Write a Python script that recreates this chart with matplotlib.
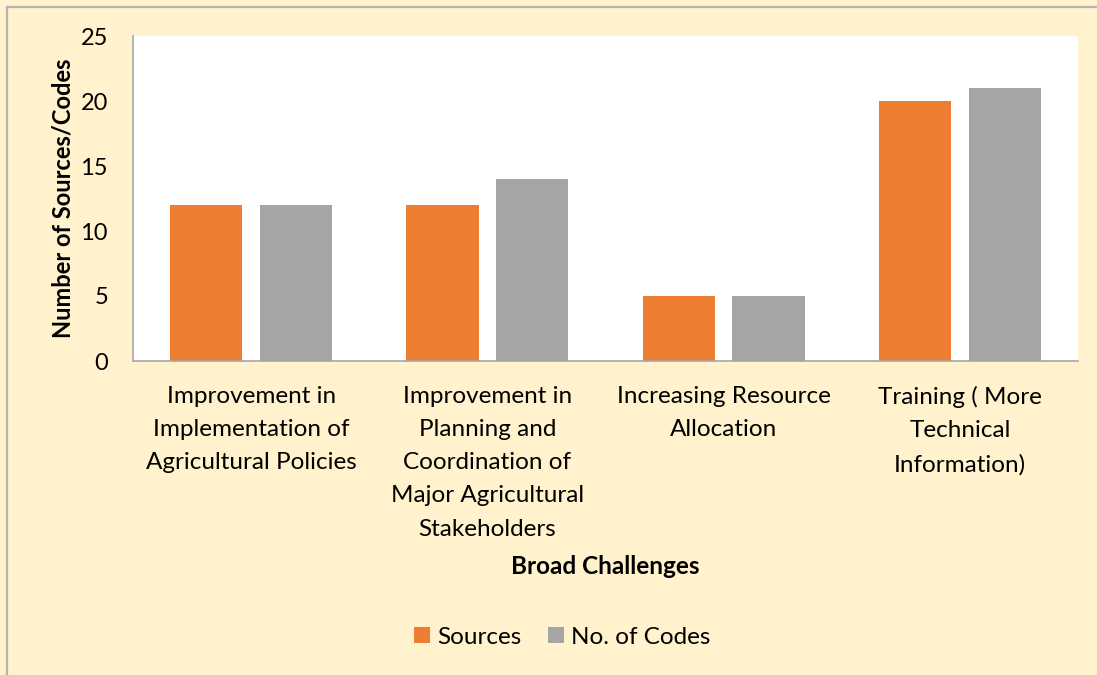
import numpy as np
import matplotlib.pyplot as plt
from matplotlib.lines import Line2D

categories = [
    "Improvement in\nImplementation of\nAgricultural Policies",
    "Improvement in\nPlanning and\nCoordination of\nMajor Agricultural\nStakeholders",
    "Increasing Resource\nAllocation",
    "Training ( More\nTechnical\nInformation)",
]
sources = [12, 12, 5, 20]
codes = [12, 14, 5, 21]
series_names = ["Sources", "No. of Codes"]
colors = ["#ED7D31", "#A5A5A5"]
bg = "#FFF2CC"

plt.rcParams['font.family'] = ['Lato', 'DejaVu Sans']

fig = plt.figure(figsize=(10.97, 6.75), dpi=100, facecolor=bg)
ax = fig.add_axes([133 / 1097, 1 - 361 / 675, (1078 - 133) / 1097, (361 - 36) / 675])
ax.set_facecolor("white")

x = np.arange(len(categories))
w = 0.305
ax.bar(x - 0.19, sources, w, color=colors[0], label=series_names[0])
ax.bar(x + 0.19, codes, w, color=colors[1], label=series_names[1])

ax.set_xlim(-0.5, len(categories) - 0.5)
ax.set_ylim(0, 25)
ax.set_yticks(range(0, 26, 5))
ax.tick_params(axis='y', length=0, labelsize=17, pad=18)
ax.tick_params(axis='x', length=0)
ax.set_xticks([])
for xi, lab in zip(x, categories):
    ax.text(xi, -1.9, lab, ha='center', va='top', fontsize=17.5, linespacing=1.72,
            transform=ax.transData)

for s in ['top', 'right']:
    ax.spines[s].set_visible(False)
for s in ['left', 'bottom']:
    ax.spines[s].set_color("#A6A6A6")
    ax.spines[s].set_linewidth(1.2)

ax.set_ylabel("Number of Sources/Codes", fontsize=17, fontweight='bold', labelpad=4)
fig.text(605 / 1097, 1 - 566 / 675, "Broad Challenges", ha='center', va='center',
         fontsize=17.5, fontweight='bold')

handles, labels = ax.get_legend_handles_labels()
fig.legend(handles, labels, loc='center', bbox_to_anchor=(562 / 1097, 1 - 637 / 675),
           ncol=2, frameon=False, fontsize=17.5, handlelength=0.65, handleheight=0.65,
           handletextpad=0.3, columnspacing=1.1)

# chart border (left and top visible)
fig.add_artist(Line2D([6.5 / 1097, 6.5 / 1097], [0, 1 - 6.5 / 675], transform=fig.transFigure,
                      color="#B3B3B3", lw=1.6))
fig.add_artist(Line2D([6.5 / 1097, 1], [1 - 6.5 / 675, 1 - 6.5 / 675], transform=fig.transFigure,
                      color="#B3B3B3", lw=1.6))

fig.savefig("out.png", dpi=100, facecolor=bg)
